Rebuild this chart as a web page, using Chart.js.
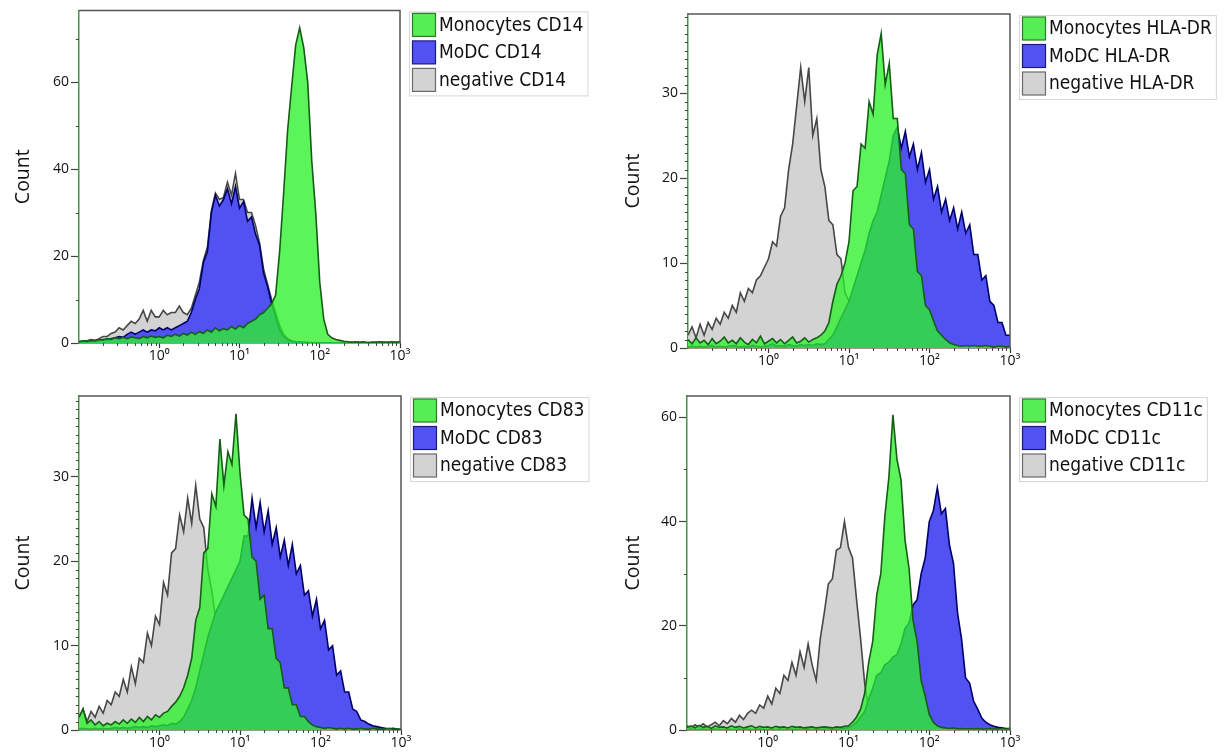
<!DOCTYPE html>
<html>
<head>
<meta charset="utf-8">
<script src="https://cdn.jsdelivr.net/npm/chart.js@4/dist/chart.umd.min.js"></script>
<style>
html,body{margin:0;padding:0;background:#fff;}
body{width:1224px;height:756px;position:relative;overflow:hidden;}
.panel{position:absolute;}
.panel canvas{display:block;}
</style>
</head>
<body>
<div class="panel" style="left:0;top:0;width:605px;height:378px"><canvas id="c1"></canvas></div>
<div class="panel" style="left:610px;top:0;width:614px;height:378px"><canvas id="c2"></canvas></div>
<div class="panel" style="left:0;top:378px;width:605px;height:378px"><canvas id="c3"></canvas></div>
<div class="panel" style="left:610px;top:378px;width:614px;height:378px"><canvas id="c4"></canvas></div>
<script>
// ---- bins: log10 of fluorescence intensity (bin centres) ----
const EXP = [-1.00,-0.95,-0.90,-0.85,-0.80,-0.75,-0.70,-0.65,-0.60,-0.55,
             -0.50,-0.45,-0.40,-0.35,-0.30,-0.25,-0.20,-0.15,-0.10,-0.05,
              0.00, 0.05, 0.10, 0.15, 0.20, 0.25, 0.30, 0.35, 0.40, 0.45,
              0.50, 0.55, 0.60, 0.65, 0.70, 0.75, 0.80, 0.85, 0.90, 0.95,
              1.00, 1.05, 1.10, 1.15, 1.20, 1.25, 1.30, 1.35, 1.40, 1.45,
              1.50, 1.55, 1.60, 1.65, 1.70, 1.75, 1.80, 1.85, 1.90, 1.95,
              2.00, 2.05, 2.10, 2.15, 2.20, 2.25, 2.30, 2.35, 2.40, 2.45,
              2.50, 2.55, 2.60, 2.65, 2.70, 2.75, 2.80, 2.85, 2.90, 2.95, 3.00];

const X_TICK_VALUES = [1, 10, 100, 1000];
const X_TICK_LABELS = ['10\u2070', '10\u00b9', '10\u00b2', '10\u00b3'];
const X_MINOR_TICKS = [0.2,0.3,0.4,0.5,0.6,0.7,0.8,0.9, 2,3,4,5,6,7,8,9,
                       20,30,40,50,60,70,80,90, 200,300,400,500,600,700,800,900];

// ---- CD14 ----
const CD14_LABELS = ['Monocytes CD14', 'MoDC CD14', 'negative CD14'];
const CD14_MONO = [0.3,0.5,0.4,0.6,0.5,0.8,0.7,1.0,0.8,1.2,
                   1.0,1.3,1.0,1.4,1.2,1.0,1.5,1.2,1.6,1.3,
                   1.5,1.2,1.8,1.5,2.0,1.6,2.2,1.8,2.5,2.0,
                   2.6,2.2,3.0,2.5,3.5,2.8,3.3,3.0,3.8,3.2,
                   4.0,3.5,4.5,5.0,5.5,6.5,7.0,8.0,9.0,11,
                   21,34.5,49,59,68.5,72.5,68,60,42,30,
                   14,5.5,2,1.2,0.8,0.6,0.4,0.3,0.2,0.3,
                   0.2,0.3,0.1,0.2,0.2,0.3,0.2,0.2,0.3,0.2,0.3];
const CD14_MODC = [0.2,0.3,0.2,0.4,0.5,0.6,0.8,0.7,1.0,1.2,
                   1.5,1.3,2.0,2.5,2.0,2.5,3.0,2.5,3.0,2.8,
                   3.5,3.0,3.5,3.0,3.5,4.0,4.5,5.0,7.0,10,
                   12.5,18.5,21,30,34,31.5,33,35.5,32,36,
                   31,32.5,28,29,25,22.5,16,13,9,6,
                   3,1.5,0.8,0.4,0.3,0.2,0.1,0.1,0,0,
                   0,0,0,0,0,0,0,0,0,0,
                   0,0,0,0,0,0,0,0,0,0,0];
const CD14_NEG  = [0.3,0.5,0.5,0.8,0.6,1.0,1.5,1.5,2.2,2.5,
                   3.5,3.0,4.0,5.0,4.5,5.5,7.5,5.0,7.5,6.0,
                   6.0,7.5,6.5,7.0,7.0,8.5,7.0,6.5,8.0,11,
                   14,19,22,30.5,34.5,33,33.5,37,34,39,
                   33,33,30,30,27,23,17,13.5,10,7,
                   4,2,1,0.5,0.3,0.2,0.2,0.1,0.1,0,
                   0,0,0,0,0,0,0,0,0,0,
                   0,0,0,0,0,0,0,0,0,0,0];
const CD14_Y_TICKS = [0, 20, 40, 60];
const CD14_Y_MINOR = [10, 30, 50, 70];
const CD14_Y_MAX = 76.5;

// ---- HLA-DR ----
const HLA_LABELS = ['Monocytes HLA-DR', 'MoDC HLA-DR', 'negative HLA-DR'];
const HLA_MONO = [1.0,0.5,1.2,0.6,0.9,0.4,1.1,0.5,0.8,1.3,
                  0.6,0.9,0.5,1.2,0.7,0.4,1.0,0.6,1.4,0.5,
                  0.8,1.1,0.6,1.0,0.5,0.9,1.3,0.6,0.8,1.2,
                  0.7,1.0,1.2,1.5,2.0,3.0,5.5,7.5,8.5,10,
                  12.5,18.5,19,24,23.5,29,27.5,34.5,37,31,
                  33.5,27,27,21,20.5,14.5,14,9,8.5,5,
                  4.5,3.2,2,1.5,1.0,0.6,0.4,0.3,0.2,0.3,
                  0.2,0.3,0.2,0.2,0.3,0.2,0.1,0.2,0.2,0.1,0.2];
const HLA_MODC = [0.1,0.2,0.1,0.2,0.1,0.2,0.3,0.1,0.2,0.1,
                  0.2,0.3,0.2,0.1,0.2,0.1,0.3,0.2,0.1,0.2,
                  0.3,0.5,0.2,0.3,0.2,0.4,0.3,0.2,0.4,0.3,
                  0.4,0.3,0.5,0.4,0.5,1.0,1.5,2.5,3.5,4.5,
                  5.5,7,8.5,10,11.5,13.5,15,16,18,20,
                  22,25,26,23.5,25.5,22.5,24,21,23,19.5,
                  21,17.5,19,16,17.5,15,16.5,14,16,13.5,
                  14.5,11,11,8,8.5,5.5,5,3,3,1.5,1.5];
const HLA_NEG  = [1.5,2.5,1.2,2.8,1.5,3.0,2.2,3.5,2.8,4.2,
                  3.5,5.0,4.2,6.5,5.5,7.0,6.5,8.0,8.5,9.5,
                  10.5,12.5,12,15.5,16.5,21,24,28.5,33,29,
                  33,25,27,21,19,15,14.5,11,10.5,6.5,
                  5.5,3.5,2.2,1.2,0.8,0.6,0.4,0.3,0.2,0.3,
                  0.2,0.2,0.1,0.2,0.1,0.1,0.1,0,0.1,0,
                  0,0,0,0,0,0,0,0,0,0,
                  0,0,0,0,0,0,0,0,0,0,0];
const HLA_Y_TICKS = [0, 10, 20, 30];
const HLA_Y_MINOR = [1,2,3,4,5,6,7,8,9,11,12,13,14,15,16,17,18,19,
                     21,22,23,24,25,26,27,28,29,31,32,33,34,35,36,37,38,39];
const HLA_Y_MAX = 39.3;

// ---- CD83 ----
const CD83_LABELS = ['Monocytes CD83', 'MoDC CD83', 'negative CD83'];
const CD83_MONO = [1.5,2.5,0.8,1.2,0.6,1.0,0.5,0.8,0.6,1.0,
                   0.7,1.2,0.8,1.3,0.9,1.5,1.0,1.6,1.2,1.8,
                   1.5,2.0,2.2,2.8,3.3,4.0,5.0,6.5,8.5,13,
                   14.5,21,21.5,28,26.5,34.5,29,33,31.5,37.5,
                   30.5,25.5,25,20.5,20,15.5,16,12,12,8.5,
                   8,5,5,3,3,1.6,1.6,1.0,0.6,0.4,
                   0.3,0.2,0.3,0.2,0.1,0.2,0.1,0.2,0.1,0.1,
                   0.2,0.1,0.1,0.2,0.1,0.1,0.1,0.2,0.1,0.1,0.1];
const CD83_MODC = [0.1,0.2,0.1,0.1,0.2,0.1,0.2,0.1,0.2,0.3,
                   0.2,0.3,0.2,0.3,0.4,0.3,0.4,0.3,0.5,0.4,
                   0.5,0.6,0.5,0.8,0.7,1.0,1.5,2.5,3.5,5,
                   7,9,11,12.5,14,15,16,17,18,19,
                   20,23,23,27.5,24,27,23.5,26,22,24,
                   20.5,22.5,19.5,22,18.5,19.5,16,16.5,13.5,15.5,
                   12,13,9.5,10,6.5,7,4.5,4.5,2.5,2.2,
                   1.2,1.0,0.7,0.5,0.4,0.3,0.2,0.1,0.2,0.1,0];
const CD83_NEG  = [1.5,2.5,1.0,2.2,1.5,2.8,2.0,3.5,3.0,4.5,
                   4.0,6.0,4.5,7.5,5.5,8.5,8.0,11.5,10,13.5,
                   12.5,17.5,16,21,21.5,25.5,23.5,27.5,24.5,29,
                   25,24,19,16.5,13,10,8,6,4.5,3.5,
                   2.5,1.8,1.2,0.8,0.5,0.4,0.3,0.2,0.2,0.1,
                   0.1,0.1,0,0,0,0,0,0,0,0,
                   0,0,0,0,0,0,0,0,0,0,
                   0,0,0,0,0,0,0,0,0,0,0];
const CD83_Y_TICKS = [0, 10, 20, 30];
const CD83_Y_MINOR = [1,2,3,4,5,6,7,8,9,11,12,13,14,15,16,17,18,19,
                      21,22,23,24,25,26,27,28,29,31,32,33,34,35,36,37,38,39];
const CD83_Y_MAX = 39.6;

// ---- CD11c ----
const CD11C_LABELS = ['Monocytes CD11c', 'MoDC CD11c', 'negative CD11c'];
const CD11C_MONO = [0.5,0.8,0.4,0.9,0.5,0.7,0.3,0.8,0.5,0.6,
                    0.4,0.8,0.5,0.7,0.4,0.6,0.8,0.4,0.7,0.5,
                    0.6,0.4,0.7,0.5,0.6,0.4,0.7,0.5,0.6,0.4,
                    0.5,0.6,0.4,0.5,0.6,0.5,0.4,0.6,0.5,0.7,
                    0.8,1.5,2.5,4,7,13,17,26,30,41,
                    48.5,60.5,52,48,36.5,31,21,17,9.5,6.5,
                    3,1.5,0.8,0.5,0.4,0.3,0.4,0.2,0.3,0.2,
                    0.3,0.2,0.3,0.2,0.2,0.3,0.2,0.2,0.3,0.2,0.3];
const CD11C_MODC = [0.1,0.2,0.1,0.1,0.2,0.1,0.1,0.2,0.1,0.1,
                    0.2,0.1,0.1,0.2,0.1,0.2,0.1,0.1,0.2,0.1,
                    0.1,0.2,0.1,0.2,0.1,0.1,0.2,0.1,0.2,0.1,
                    0.2,0.1,0.2,0.1,0.2,0.2,0.1,0.2,0.2,0.3,
                    0.5,0.8,1.5,2.5,3.5,6,8,10.5,11,12.5,
                    13,14,14.5,16.5,19.5,20.5,24,25,30,33,
                    40,42,46.5,41.5,42.5,35.5,32,22.5,17.5,10,
                    9,5.5,4,2.3,1.5,1.0,0.7,0.5,0.4,0.3,0.3];
const CD11C_NEG  = [0.8,0.4,1.0,0.5,1.2,0.6,1.0,1.5,0.8,1.8,
                    1.2,2.2,1.5,2.8,2.0,3.2,3.8,3.2,4.8,4.2,
                    6.5,5,8,7,10.5,9.5,13,10.5,15,12,
                    16.5,12.5,9.5,17.5,22.5,28,29,34.5,35,40,
                    35,33,25,17.5,9,4,2,1,0.6,0.4,
                    0.3,0.2,0.2,0.1,0.1,0,0,0,0,0,
                    0,0,0,0,0,0,0,0,0,0,
                    0,0,0,0,0,0,0,0,0,0,0];
const CD11C_Y_TICKS = [0, 20, 40, 60];
const CD11C_Y_MINOR = [10, 30, 50];
const CD11C_Y_MAX = 64.1;

// ---- styles ----
const STYLE = [
  {fill: 'rgba(41,242,41,0.77)', line: '#175c17', swatch: '#55ef55', swatchLine: '#2a7a2a'},
  {fill: '#5252f2', line: '#00006a', swatch: '#5252f2', swatchLine: '#1a1a80'},
  {fill: '#d3d3d3', line: '#474747', swatch: '#d3d3d3', swatchLine: '#6a6a6a'}
];
const FONT_UI = '"Open Sans", "DejaVu Sans", sans-serif';
const FONT_LEGEND = '"DejaVu Sans Condensed", "DejaVu Sans", sans-serif';

const PANELS = [
  {id: 'c1', labels: CD14_LABELS, series: [CD14_MONO, CD14_MODC, CD14_NEG],
   yTicks: CD14_Y_TICKS, yMinor: CD14_Y_MINOR, yMax: CD14_Y_MAX,
   pad: {top: 10, right: 205, bottom: 0, left: 0}, yW: 79, xH: 35},
  {id: 'c2', labels: HLA_LABELS, series: [HLA_MONO, HLA_MODC, HLA_NEG],
   yTicks: HLA_Y_TICKS, yMinor: HLA_Y_MINOR, yMax: HLA_Y_MAX,
   pad: {top: 14, right: 214, bottom: 0, left: 0}, yW: 78, xH: 30},
  {id: 'c3', labels: CD83_LABELS, series: [CD83_MONO, CD83_MODC, CD83_NEG],
   yTicks: CD83_Y_TICKS, yMinor: CD83_Y_MINOR, yMax: CD83_Y_MAX,
   pad: {top: 18, right: 204, bottom: 0, left: 0}, yW: 79, xH: 26},
  {id: 'c4', labels: CD11C_LABELS, series: [CD11C_MONO, CD11C_MODC, CD11C_NEG],
   yTicks: CD11C_Y_TICKS, yMinor: CD11C_Y_MINOR, yMax: CD11C_Y_MAX,
   pad: {top: 18, right: 214, bottom: 0, left: 0}, yW: 77, xH: 26}
];

function makeDecor(p) {
  return {
    id: 'decor_' + p.id,
    afterDraw(chart) {
      const {ctx, chartArea: a, scales} = chart;
      const xs = scales.x, ys = scales.y;
      ctx.save();
      ctx.strokeStyle = '#555';
      ctx.lineWidth = 1.5;
      ctx.beginPath();
      ctx.moveTo(a.left, a.top);
      ctx.lineTo(a.right, a.top);
      ctx.lineTo(a.right, a.bottom);
      ctx.stroke();
      ctx.strokeStyle = '#444';
      ctx.lineWidth = 1;
      ctx.beginPath();
      X_MINOR_TICKS.forEach(v => {
        const px = Math.round(xs.getPixelForValue(v)) + 0.5;
        ctx.moveTo(px, a.bottom);
        ctx.lineTo(px, a.bottom + 3);
      });
      p.yMinor.forEach(v => {
        const py = Math.round(ys.getPixelForValue(v)) + 0.5;
        ctx.moveTo(a.left - 3, py);
        ctx.lineTo(a.left, py);
      });
      ctx.stroke();
      const x0 = a.right + 9.5, y0 = a.top + 1.5;
      const rowH = 27.5, sw = 23;
      ctx.font = '19px ' + FONT_LEGEND;
      let tw = 0;
      p.labels.forEach(l => { tw = Math.max(tw, ctx.measureText(l).width); });
      const bw = 29 + tw + 5, bh = 84;
      ctx.fillStyle = '#ffffff';
      ctx.fillRect(x0, y0, bw, bh);
      ctx.strokeStyle = '#d6d6d6';
      ctx.lineWidth = 1;
      ctx.strokeRect(x0, y0, bw, bh);
      p.labels.forEach((l, k) => {
        const sy = y0 + 1.5 + k * rowH;
        ctx.fillStyle = STYLE[k].swatch;
        ctx.fillRect(x0 + 3, sy, sw, sw);
        ctx.strokeStyle = STYLE[k].swatchLine;
        ctx.lineWidth = 1.2;
        ctx.strokeRect(x0 + 3, sy, sw, sw);
        ctx.fillStyle = '#111';
        ctx.textAlign = 'left';
        ctx.textBaseline = 'middle';
        ctx.fillText(l, x0 + 29.5, sy + sw / 2 + 1);
      });
      ctx.restore();
    }
  };
}

PANELS.forEach(p => {
  const datasets = p.series.map((s, k) => ({
    label: p.labels[k],
    data: EXP.map((e, i) => ({x: Math.pow(10, e), y: s[i]})),
    fill: 'origin',
    backgroundColor: STYLE[k].fill,
    borderColor: STYLE[k].line,
    borderWidth: 1.6,
    pointRadius: 0,
    tension: 0
  }));
  new Chart(document.getElementById(p.id), {
    type: 'line',
    data: {datasets},
    options: {
      responsive: true,
      maintainAspectRatio: false,
      animation: false,
      devicePixelRatio: 1,
      layout: {padding: p.pad},
      plugins: {legend: {display: false}, tooltip: {enabled: false}},
      scales: {
        x: {
          type: 'logarithmic', min: 0.1, max: 1000,
          afterBuildTicks: s => { s.ticks = X_TICK_VALUES.map(v => ({value: v})); },
          afterFit: s => { s.height = p.xH; },
          grid: {drawOnChartArea: false, drawTicks: true, tickLength: 5, tickColor: '#333', tickWidth: 1.2},
          border: {display: true, color: '#333', width: 1.5},
          ticks: {
            autoSkip: false, maxRotation: 0, padding: 0, color: '#111',
            font: {family: FONT_UI, size: 14},
            callback: v => X_TICK_LABELS[X_TICK_VALUES.indexOf(v)]
          }
        },
        y: {
          type: 'linear', min: 0, max: p.yMax,
          afterBuildTicks: s => { s.ticks = p.yTicks.map(v => ({value: v})); },
          afterFit: s => { s.width = p.yW; },
          grid: {drawOnChartArea: false, drawTicks: true, tickLength: 8, tickColor: '#444', tickWidth: 1.2},
          border: {display: true, color: '#4a8f4a', width: 1.5},
          ticks: {padding: 2, color: '#111', font: {family: FONT_UI, size: 14}},
          title: {display: true, text: 'Count', color: '#111',
                  font: {family: FONT_UI, size: 19.5}, padding: {top: 12, bottom: 0}}
        }
      }
    },
    plugins: [makeDecor(p)]
  });
});
</script>
</body>
</html>
